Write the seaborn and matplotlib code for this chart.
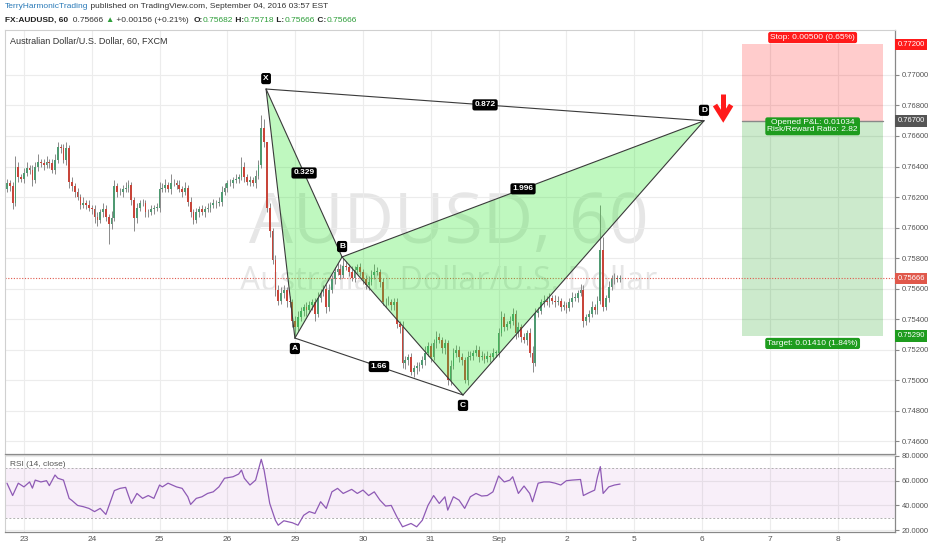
import matplotlib
matplotlib.use("Agg")
import matplotlib.pyplot as plt
import matplotlib.transforms as mtrans
import seaborn as sns
import numpy as np
import pandas as pd

# -----------------------------
# Date (AUDUSD, 60 min, FXCM)
# -----------------------------
first_open = 0.7625
closes = [
    0.7629, 0.7627, 0.7616, 0.7640, 0.7633, 0.7632, 0.7636, 0.7639, 0.7638, 0.7631, 0.7640, 0.7643,
    0.7642, 0.7641, 0.7643, 0.7642, 0.7638, 0.7644, 0.7653, 0.7652, 0.7644, 0.7652, 0.7630, 0.7627,
    0.7623, 0.7620, 0.7615, 0.7616, 0.7615, 0.7613, 0.7612, 0.7607, 0.7605, 0.7610, 0.7612, 0.7607,
    0.7602, 0.7606, 0.7627, 0.7623, 0.7623, 0.7625, 0.7626, 0.7628, 0.7618, 0.7606, 0.7613, 0.7616,
    0.7616, 0.7610, 0.7610, 0.7612, 0.7613, 0.7613, 0.7625, 0.7626, 0.7628, 0.7625, 0.7629, 0.7629,
    0.7628, 0.7625, 0.7623, 0.7626, 0.7617, 0.7610, 0.7605, 0.7610, 0.7612, 0.7610, 0.7612, 0.7613,
    0.7615, 0.7616, 0.7616, 0.7617, 0.7623, 0.7626, 0.7629, 0.7629, 0.7631, 0.7632, 0.7633, 0.7640,
    0.7633, 0.7630, 0.7631, 0.7629, 0.7634, 0.7641, 0.7665, 0.7656, 0.7613, 0.7598, 0.7579, 0.7559,
    0.7552, 0.7557, 0.7559, 0.7552, 0.7551, 0.7539, 0.7535, 0.7541, 0.7545, 0.7548, 0.7546, 0.7549,
    0.7551, 0.7543, 0.7554, 0.7557, 0.7560, 0.7548, 0.7559, 0.7566, 0.7571, 0.7573, 0.7569, 0.7575,
    0.7574, 0.7571, 0.7567, 0.7572, 0.7574, 0.7571, 0.7566, 0.7562, 0.7564, 0.7569, 0.7571, 0.7571,
    0.7564, 0.7551, 0.7551, 0.7551, 0.7549, 0.7551, 0.7537, 0.7535, 0.7511, 0.7513, 0.7515, 0.7505,
    0.7508, 0.7509, 0.7510, 0.7513, 0.7518, 0.7522, 0.7515, 0.7524, 0.7528, 0.7526, 0.7521, 0.7524,
    0.7500, 0.7509, 0.7518, 0.7520, 0.7515, 0.7513, 0.7500, 0.7515, 0.7516, 0.7518, 0.7520, 0.7515,
    0.7516, 0.7514, 0.7516, 0.7515, 0.7518, 0.7518, 0.7531, 0.7541, 0.7535, 0.7537, 0.7539, 0.7543,
    0.7531, 0.7535, 0.7528, 0.7526, 0.7531, 0.7518, 0.7511, 0.7544, 0.7545, 0.7551, 0.7552, 0.7551,
    0.7554, 0.7552, 0.7551, 0.7552, 0.7548, 0.7549, 0.7547, 0.7551, 0.7554, 0.7554, 0.7557, 0.7559,
    0.7539, 0.7541, 0.7543, 0.7548, 0.7546, 0.7552, 0.7585, 0.7548, 0.7554, 0.7561, 0.7566, 0.7567,
    0.7566, 0.75666,
]
# fitiluri (in pips)
upper_wick = [
    3, 2, 3, 7, 3, 2, 3, 4, 2, 3, 3, 5, 2, 3, 4, 2, 3, 4, 3, 2, 3, 4, 2, 3,
    2, 3, 2, 4, 2, 3, 2, 3, 3, 2, 4, 3, 2, 5, 4, 2, 3, 3, 4, 3, 2, 2, 3, 2,
    3, 2, 2, 3, 2, 3, 5, 3, 4, 2, 6, 3, 2, 3, 2, 4, 2, 3, 2, 3, 2, 3, 2, 3,
    2, 3, 2, 3, 4, 3, 2, 3, 2, 3, 2, 6, 3, 2, 3, 2, 4, 3, 9, 6, 0, 3, 2, 3,
    3, 4, 3, 2, 3, 2, 3, 4, 3, 2, 3, 3, 2, 3, 4, 3, 2, 3, 4, 3, 3, 4, 3, 5,
    3, 2, 4, 3, 2, 3, 2, 3, 4, 3, 5, 3, 2, 3, 3, 4, 2, 3, 3, 2, 4, 3, 2, 3,
    2, 3, 2, 3, 4, 3, 2, 3, 4, 3, 2, 3, 2, 4, 3, 3, 2, 3, 2, 4, 3, 2, 3, 2,
    3, 2, 3, 2, 3, 2, 3, 4, 3, 2, 3, 4, 3, 3, 2, 3, 2, 3, 4, 3, 3, 2, 4, 3,
    3, 2, 4, 3, 2, 3, 2, 3, 4, 3, 2, 4, 3, 2, 3, 4, 2, 3, 30, 9, 2, 4, 3, 3, 2, 2,
]
lower_wick = [
    2, 3, 4, 2, 3, 2, 3, 2, 3, 4, 2, 3, 2, 3, 2, 3, 2, 3, 2, 3, 2, 3, 4, 3,
    3, 2, 3, 2, 3, 2, 3, 4, 4, 2, 3, 3, 13, 3, 2, 3, 2, 3, 2, 3, 3, 8, 3, 2,
    2, 3, 3, 2, 3, 2, 3, 2, 3, 2, 3, 2, 3, 2, 3, 2, 3, 3, 3, 2, 3, 2, 3, 2,
    3, 2, 3, 2, 3, 2, 3, 2, 3, 2, 3, 2, 3, 2, 3, 2, 3, 2, 2, 3, 3, 4, 3, 4,
    3, 2, 3, 4, 3, 4, 7, 3, 2, 3, 4, 2, 3, 4, 2, 3, 2, 4, 3, 2, 3, 2, 3, 2,
    2, 3, 2, 3, 2, 3, 3, 2, 3, 2, 3, 2, 3, 2, 3, 2, 3, 3, 3, 4, 3, 4, 3, 2,
    3, 4, 3, 2, 3, 2, 3, 2, 3, 2, 3, 4, 3, 3, 2, 3, 3, 3, 2, 3, 2, 3, 2, 3,
    2, 3, 2, 3, 2, 3, 3, 2, 3, 2, 3, 3, 4, 3, 3, 2, 3, 3, 6, 2, 3, 2, 3, 2,
    3, 2, 3, 2, 3, 2, 3, 2, 3, 2, 3, 2, 4, 3, 3, 2, 3, 3, 2, 3, 2, 3, 2, 3, 2, 2,
]

rsi_hour = [0, 2, 4, 6, 8, 9, 10, 12, 14, 15, 17, 18, 20, 22, 23, 25, 27, 29, 31, 33, 35, 38,
            40, 42, 43, 44, 46, 48, 50, 52, 54, 55, 57, 60, 62, 64, 65, 67, 69, 71, 73, 75,
            77, 80, 82, 83, 84, 86, 88, 90, 91, 93, 95, 96, 98, 101, 103, 105, 107, 109, 111,
            113, 115, 117, 119, 122, 124, 126, 128, 130, 132, 134, 136, 138, 140, 143, 145,
            147, 149, 151, 153, 155, 156, 158, 160, 162, 164, 166, 168, 170, 172, 174, 176,
            178, 179, 181, 183, 185, 186, 188, 190, 192, 194, 196, 198, 200, 203, 204, 206,
            208, 209, 210, 211, 213, 215, 217]
rsi_value = [58, 48, 58, 55, 59, 54, 60.5, 59, 60, 56, 64.6, 62, 60.5, 45.7, 44, 40, 39, 37.6,
             35, 37.6, 32.7, 52, 53.8, 54.6, 48, 41.6, 49.7, 45.7, 48, 45.7, 56.5, 55, 58, 55,
             53.8, 47, 40.8, 45.7, 47, 49.7, 51, 55, 62, 63.2, 65.4, 68.6, 62, 56.5, 60.5, 77.3,
             68.6, 41.6, 28, 24, 27.6, 26, 24, 32, 35, 33.5, 43, 37.6, 51, 53.8, 49.7, 53, 49.7,
             52.4, 48, 51, 44.3, 39.5, 40, 30.8, 22.7, 25.4, 22.7, 28, 40, 48, 41.6, 47, 36.2,
             47, 44.3, 37.6, 47, 49.7, 47.6, 48, 51, 63.8, 59, 60.5, 63.2, 49.7, 55.7, 49.7, 43,
             58, 59, 59, 58, 56.5, 60, 60.5, 61, 48, 50.3, 52.4, 63.2, 71.4, 49.7, 55, 56.5, 57.3]

# zile pe axa X (indice bara orara)
day_bar = [6, 30, 54, 78, 102, 126, 150, 174, 198, 222, 246, 270, 294]
day_label = ["23", "24", "25", "26", "29", "30", "31", "Sep", "2", "5", "6", "7", "8"]
price_ticks = [0.746, 0.748, 0.750, 0.752, 0.754, 0.756, 0.758, 0.760, 0.762, 0.764, 0.766, 0.768, 0.770]

# model harmonic XABCD
pattern_names = ["X", "A", "B", "C", "D"]
pattern_bar = [91.7, 101.9, 118.6, 161.4, 246.7]
pattern_price = [0.76908, 0.75275, 0.75807, 0.74902, 0.76700]
ratio_text = {("X", "D"): "0.872", ("X", "B"): "0.329", ("B", "D"): "1.996", ("A", "C"): "1.66"}

# sageata de vanzare (bara, pret varf / brate / coada)
arrow_bar = [250.6, 253.5, 256.3]
arrow_price = [0.76875, 0.76803, 0.76718]

# pozitie short
pos_bars = [260.2, 310.1]
stop_price = 0.772
entry_price = 0.767
target_price = 0.7529
last_price = 0.75666

# -----------------------------
# Figura
# -----------------------------
sns.set_style("white")
plt.rcParams["font.family"] = ["Liberation Sans", "DejaVu Sans"]

W, H = 932, 550
fig = plt.figure(figsize=(W / 100, H / 100), dpi=100)


def fx(px):
    return px / W


def fy(py):
    return 1 - py / H


ax = fig.add_axes([fx(5), fy(454), fx(895) - fx(5), fy(30) - fy(454)])
ax_rsi = fig.add_axes([fx(5), fy(532), fx(895) - fx(5), fy(455) - fy(532)])

xlim = (-0.7, 314.3)

df = pd.DataFrame({"close": closes, "up": upper_wick, "lo": lower_wick})
df["bar"] = np.arange(len(df))
df["open"] = [first_open] + closes[:-1]
df["high"] = df[["open", "close"]].max(axis=1) + df["up"] / 10000
df["low"] = df[["open", "close"]].min(axis=1) - df["lo"] / 10000
df["rise"] = df["close"] >= df["open"]

# watermark
ax.text(0.499, 0.498, "AUDUSD, 60", transform=ax.transAxes, ha="center", va="baseline",
        fontsize=50, family="Open Sans", color="#e6e6e6", zorder=0.5)
ax.text(0.498, 0.387, "Australian Dollar/U.S. Dollar", transform=ax.transAxes, ha="center",
        va="baseline", fontsize=23, family="Open Sans", color="#e6e6e6", zorder=0.5)

# lumanari
ax.vlines(df["bar"], df["low"], df["high"], color="#8a8a8a", lw=0.7, zorder=2)
body = (df["close"] - df["open"]).abs().clip(lower=0.00002)
ax.bar(df["bar"], body, bottom=df[["open", "close"]].min(axis=1), width=0.62,
       color=np.where(df["rise"], "#4f9a72", "#c8453a"), edgecolor="none", zorder=2.5)

ax.axhline(last_price, color="#e0584b", lw=0.8, ls=(0, (1, 1.5)), zorder=1.5)

# model XABCD
pts = dict(zip(pattern_names, zip(pattern_bar, pattern_price)))
for tri in (("X", "A", "B"), ("B", "C", "D")):
    ax.fill([pts[n][0] for n in tri], [pts[n][1] for n in tri], facecolor="#2ee82e",
            alpha=0.3, edgecolor="none", zorder=3)
for a, b in (("X", "A"), ("A", "B"), ("X", "B"), ("B", "C"), ("C", "D"), ("B", "D"), ("X", "D"), ("A", "C")):
    ax.plot([pts[a][0], pts[b][0]], [pts[a][1], pts[b][1]], color="#3a3a3a", lw=0.8, zorder=3.5)

box = dict(boxstyle="round,pad=0.25,rounding_size=0.25", fc="black", ec="none")
for name in pattern_names:
    up = name in ("X", "B", "D")
    ax.annotate(name, pts[name], xytext=(0, 7.5 if up else -7.5), textcoords="offset points",
                ha="center", va="center", fontsize=6, fontweight="bold", color="white",
                bbox=box, zorder=5)
for (a, b), txt in ratio_text.items():
    mx = (pts[a][0] + pts[b][0]) / 2
    my = (pts[a][1] + pts[b][1]) / 2
    ax.text(mx, my, txt, ha="center", va="center", fontsize=6, fontweight="bold",
            color="white", bbox=box, zorder=5)

# sageata rosie (coada + chevron)
ax.plot([arrow_bar[1], arrow_bar[1]], [arrow_price[0], arrow_price[2] + 0.00008],
        color="#ff1a1a", lw=3.6, solid_capstyle="butt", zorder=5)
ax.plot([arrow_bar[0], arrow_bar[1], arrow_bar[2]], [arrow_price[1], arrow_price[2], arrow_price[1]],
        color="#ff1a1a", lw=3.6, solid_joinstyle="miter", solid_capstyle="butt", zorder=5)

# zona pozitie
ax.fill_between(pos_bars, entry_price, stop_price, color="#ff0000", alpha=0.2, lw=0, zorder=1)
ax.fill_between(pos_bars, target_price, entry_price, color="#009600", alpha=0.2, lw=0, zorder=1)
ax.plot(pos_bars, [entry_price, entry_price], color="#888888", lw=1, zorder=1.2)
mid = sum(pos_bars) / 2
ax.annotate("Stop: 0.00500 (0.65%)", (mid, stop_price), xytext=(0, 5), textcoords="offset points",
            ha="center", va="center", fontsize=6, color="white",
            bbox=dict(boxstyle="round,pad=0.25", fc="#ff1a1a", ec="none"), zorder=6)
ax.annotate("Opened P&L: 0.01034\nRisk/Reward Ratio: 2.82", (mid, entry_price), xytext=(0, -4),
            textcoords="offset points", ha="center", va="center", fontsize=6, color="white",
            linespacing=0.95, bbox=dict(boxstyle="round,pad=0.25", fc="#1e9c1e", ec="none"), zorder=6)
ax.annotate("Target: 0.01410 (1.84%)", (mid, target_price), xytext=(0, -5.5), textcoords="offset points",
            ha="center", va="center", fontsize=6, color="white",
            bbox=dict(boxstyle="round,pad=0.25", fc="#1e9c1e", ec="none"), zorder=6)

# axe pret
ax.set_xlim(*xlim)
ax.set_ylim(0.74515, 0.77295)
ax.set_xticks(day_bar)
ax.set_yticks(price_ticks)
ax.yaxis.tick_right()
ax.yaxis.set_major_formatter(matplotlib.ticker.FormatStrFormatter("%.5f"))
ax.tick_params(axis="x", length=0, labelbottom=False)
ax.tick_params(axis="y", length=3, color="#888888", labelsize=5.5, labelcolor="#555555", pad=2)
ax.grid(True, color="#ececec", lw=0.8, zorder=0)
ax.set_axisbelow(True)

tr = mtrans.blended_transform_factory(ax.transAxes, ax.transData)
for p, c in ((stop_price, "#ff1a1a"), (entry_price, "#555555"), (last_price, "#e0584b"), (target_price, "#1e9c1e")):
    ax.text(1.003, p, f"{p:.5f}", transform=tr, ha="left", va="center", fontsize=5.5, color="white",
            bbox=dict(boxstyle="square,pad=0.3", fc=c, ec="none"), clip_on=False, zorder=7)

# RSI
ax_rsi.axhspan(30, 70, color="#9c27b0", alpha=0.07, lw=0)
for lvl in (30, 70):
    ax_rsi.axhline(lvl, color="#b0b0b0", lw=0.7, ls=(0, (2, 2)))
sns.lineplot(x=rsi_hour, y=rsi_value, ax=ax_rsi, color="#8e5ab5", lw=0.9)
ax_rsi.set_xlim(*xlim)
ax_rsi.set_ylim(18.5, 80.8)
ax_rsi.set_yticks([20, 40, 60, 80])
ax_rsi.yaxis.tick_right()
ax_rsi.yaxis.set_major_formatter(matplotlib.ticker.FormatStrFormatter("%.4f"))
ax_rsi.set_xticks(day_bar)
ax_rsi.set_xticklabels(day_label)
ax_rsi.tick_params(axis="x", length=0, labelsize=6, labelcolor="#555555", pad=3)
ax_rsi.tick_params(axis="y", length=3, color="#888888", labelsize=5.5, labelcolor="#555555", pad=2)
ax_rsi.grid(True, color="#ececec", lw=0.8)
ax_rsi.set_axisbelow(True)
ax_rsi.text(0.006, 0.86, "RSI (14, close)", transform=ax_rsi.transAxes, fontsize=6, color="#555555")

for a in (ax, ax_rsi):
    for s in ("left", "top"):
        a.spines[s].set_color("#d0d0d0")
    for s in ("right", "bottom"):
        a.spines[s].set_color("#888888")
        a.spines[s].set_linewidth(0.9)

# antet
fig.text(fx(10), fy(41), "Australian Dollar/U.S. Dollar, 60, FXCM", fontsize=6.5, va="center", color="#333333")

renderer = fig.canvas.get_renderer()


def rich_text(x_px, y_px, parts):
    x = x_px
    for s, color, weight in parts:
        t = fig.text(fx(x), fy(y_px), s, color=color, fontweight=weight, fontsize=6, va="center")
        x = t.get_window_extent(renderer=renderer).x1


green = "#2e9e3a"
rich_text(5, 7, [("TerryHarmonicTrading", "#2a7ab8", "normal"),
                 (" published on TradingView.com, September 04, 2016 03:57 EST", "#333333", "normal")])
rich_text(5, 20, [("FX:AUDUSD, 60", "#222222", "bold"), ("  0.75666 ", "#333333", "normal"),
                  ("▲", green, "normal"), (" +0.00156 (+0.21%)  ", "#333333", "normal"),
                  ("O:", "#222222", "bold"), ("0.75682", green, "normal"),
                  (" H:", "#222222", "bold"), ("0.75718", green, "normal"),
                  (" L:", "#222222", "bold"), ("0.75666", green, "normal"),
                  (" C:", "#222222", "bold"), ("0.75666", green, "normal")])

fig.savefig("out.png", dpi=100)
